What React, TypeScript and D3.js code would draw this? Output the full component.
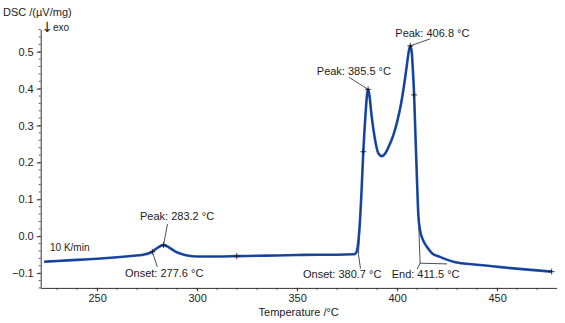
import React, { useEffect, useRef } from "react";
import * as d3 from "d3";

// DSC curve (temperature in °C, signal in µV/mg)
const temps = [
  223.5, 230, 240, 250, 260, 268, 273, 276, 277.6, 279.5, 281.5, 283.2, 285, 287, 289, 291.5, 295,
  300, 310, 320, 330, 340, 350, 360, 370, 378.5, 379.5, 380.5, 381.3, 382.2, 383.1, 384.2, 385.0,
  385.5, 386.2, 387.3, 389, 390.6, 392.3, 394, 396, 398, 400, 402, 403.5, 404.8, 405.8, 406.6,
  407.3, 407.9, 408.5, 409.2, 409.9, 410.6, 411.45, 412.95, 414.8, 417.45, 421.45, 428.1, 441.45,
  458.1, 477.3,
];
const dsc = [
  -0.069, -0.067, -0.064, -0.061, -0.057, -0.053, -0.05, -0.046, -0.042, -0.034, -0.027, -0.024,
  -0.027, -0.034, -0.041, -0.047, -0.052, -0.055, -0.055, -0.054, -0.053, -0.052, -0.051, -0.05,
  -0.05, -0.049, -0.045, -0.02, 0.03, 0.12, 0.229, 0.33, 0.385, 0.398, 0.38, 0.324, 0.261, 0.225,
  0.217, 0.224, 0.245, 0.272, 0.31, 0.36, 0.41, 0.46, 0.5, 0.516, 0.5, 0.45, 0.383, 0.27, 0.16,
  0.06, 0.017, -0.01, -0.028, -0.046, -0.056, -0.069, -0.078, -0.087, -0.096,
];

// evaluation marks (+)
const markT = [277.6, 283.2, 319.8, 383.1, 385.5, 406.6, 408.5, 477.3];
const markV = [-0.042, -0.024, -0.054, 0.229, 0.398, 0.516, 0.383, -0.096];

// annotations
const noteText = ["Peak: 283.2 °C", "Onset: 277.6 °C", "Peak: 385.5 °C", "Peak: 406.8 °C", "Onset: 380.7 °C", "End: 411.5 °C"];
const noteT = [283.2, 277.6, 385.5, 406.6, 380.7, 411.5];
const noteV = [-0.024, -0.042, 0.398, 0.516, -0.05, -0.073];

// tangent constructions: inflection point -> onset / end
const tangentFromT = [383.1, 408.5];
const tangentFromV = [0.229, 0.383];
const tangentToT = [380.7, 411.5];
const tangentToV = [-0.05, -0.073];

const xTicks = [250, 300, 350, 400, 450];
const yTicks = [-0.1, 0.0, 0.1, 0.2, 0.3, 0.4, 0.5];

const W = 565;
const H = 323;
const FONT = "'Liberation Sans', Arial, sans-serif";

export default function App() {
  const ref = useRef<SVGSVGElement>(null);

  useEffect(() => {
    const svg = d3.select(ref.current);
    svg.selectAll("*").remove();

    const x = d3.scaleLinear([221.8, 479.8], [40.7, 556.7]);
    const y = d3.scaleLinear([-0.14, 0.56], [287.9, 29.6]);
    const [x0, x1] = x.range();
    const [yb] = y.range();

    // minor ticks
    const xMinor = d3.range(230, 480, 10);
    const yMinor = d3.range(-0.14, 0.561, 0.02);
    svg
      .append("g")
      .selectAll("line")
      .data(xMinor)
      .join("line")
      .attr("x1", (d) => x(d))
      .attr("x2", (d) => x(d))
      .attr("y1", yb)
      .attr("y2", yb + 2)
      .attr("stroke", "#333")
      .attr("stroke-width", 0.8);
    svg
      .append("g")
      .selectAll("line")
      .data(yMinor)
      .join("line")
      .attr("x1", x0 - 2)
      .attr("x2", x0)
      .attr("y1", (d) => y(d))
      .attr("y2", (d) => y(d))
      .attr("stroke", "#333")
      .attr("stroke-width", 0.8);

    // x axis
    svg
      .append("g")
      .attr("transform", `translate(0,${yb})`)
      .call(d3.axisBottom(x).tickValues(xTicks).tickSize(3.5).tickSizeOuter(0).tickFormat(d3.format("d")))
      .call((g) => g.select(".domain").attr("stroke", "#333"))
      .call((g) => g.selectAll(".tick line").attr("stroke", "#333"))
      .call((g) =>
        g.selectAll(".tick text").attr("font-family", FONT).attr("font-size", 11).attr("fill", "#222").attr("y", 6)
      );

    // y axis
    svg
      .append("g")
      .attr("transform", `translate(${x0},0)`)
      .call(d3.axisLeft(y).tickValues(yTicks).tickSize(4).tickSizeOuter(0).tickFormat(d3.format(".1f")))
      .call((g) => g.select(".domain").attr("stroke", "#333"))
      .call((g) => g.selectAll(".tick line").attr("stroke", "#333"))
      .call((g) =>
        g.selectAll(".tick text").attr("font-family", FONT).attr("font-size", 11).attr("fill", "#222").attr("x", -7)
      );

    // axis titles
    svg
      .append("text")
      .attr("x", 3)
      .attr("y", 15.5)
      .attr("font-family", FONT)
      .attr("font-size", 11)
      .attr("fill", "#222")
      .text("DSC /(µV/mg)");
    svg
      .append("text")
      .attr("x", 41.5)
      .attr("y", 32)
      .attr("font-family", "'DejaVu Sans', sans-serif")
      .attr("font-size", 14)
      .attr("fill", "#222")
      .text("↓");
    svg
      .append("text")
      .attr("x", 53)
      .attr("y", 31)
      .attr("font-family", FONT)
      .attr("font-size", 10)
      .attr("fill", "#222")
      .text("exo");
    svg
      .append("text")
      .attr("x", (x0 + x1) / 2)
      .attr("y", 316)
      .attr("text-anchor", "middle")
      .attr("font-family", FONT)
      .attr("font-size", 11)
      .attr("fill", "#222")
      .text("Temperature /°C");
    svg
      .append("text")
      .attr("x", 50)
      .attr("y", 251)
      .attr("font-family", FONT)
      .attr("font-size", 10)
      .attr("fill", "#222")
      .text("10 K/min");

    // tangent constructions
    const g2 = svg.append("g").attr("stroke", "#222").attr("stroke-width", 0.8).attr("fill", "none");
    tangentFromT.forEach((t, i) => {
      g2.append("line")
        .attr("x1", x(t))
        .attr("y1", y(tangentFromV[i]))
        .attr("x2", x(tangentToT[i]))
        .attr("y2", y(tangentToV[i]));
    });
    // extrapolated baseline after end
    g2.append("line")
      .attr("x1", x(411.5))
      .attr("y1", y(-0.073))
      .attr("x2", x(425))
      .attr("y2", y(-0.075));

    // curve
    const pts = temps.map((t, i) => [t, dsc[i]] as [number, number]);
    const line = d3
      .line<[number, number]>()
      .x((d) => x(d[0]))
      .y((d) => y(d[1]))
      .curve(d3.curveMonotoneX);
    svg
      .append("path")
      .attr("d", line(pts))
      .attr("fill", "none")
      .attr("stroke", "#1d4fb0")
      .attr("stroke-width", 2.6)
      .attr("stroke-linejoin", "round");
    svg
      .append("path")
      .attr("d", line(pts))
      .attr("fill", "none")
      .attr("stroke", "#0c1f55")
      .attr("stroke-width", 0.7)
      .attr("opacity", 0.6);

    // + marks
    const gm = svg.append("g").attr("stroke", "#111").attr("stroke-width", 0.8);
    markT.forEach((t, i) => {
      const px = x(t);
      const py = y(markV[i]);
      gm.append("line").attr("x1", px - 3).attr("x2", px + 3).attr("y1", py).attr("y2", py);
      gm.append("line").attr("x1", px).attr("x2", px).attr("y1", py - 3).attr("y2", py + 3);
    });

    // annotation leaders and labels (offsets from anchor point)
    const leader = [
      [4, -21],
      [5, 15],
      [-19, -12],
      [20, -7],
      [2, 14],
      [-3, 6],
    ];
    const labelPos = [
      [-23.5, -25.3],
      [-27.3, 25.3],
      [-51.3, -14.3],
      [-15, -8.4],
      [-55.5, 23.5],
      [-28.4, 15],
    ];
    noteText.forEach((txt, i) => {
      const px = x(noteT[i]);
      const py = y(noteV[i]);
      svg
        .append("line")
        .attr("x1", px)
        .attr("y1", py)
        .attr("x2", px + leader[i][0])
        .attr("y2", py + leader[i][1])
        .attr("stroke", "#222")
        .attr("stroke-width", 0.8);
      svg
        .append("text")
        .attr("x", px + labelPos[i][0])
        .attr("y", py + labelPos[i][1])
        .attr("font-family", FONT)
        .attr("font-size", 11)
        .attr("fill", "#222")
        .text(txt);
    });
  }, []);

  return (
    <svg
      ref={ref}
      width={W}
      height={H}
      viewBox={`0 0 ${W} ${H}`}
      style={{ position: "absolute", left: 0, top: 0, background: "#fff" }}
    />
  );
}
